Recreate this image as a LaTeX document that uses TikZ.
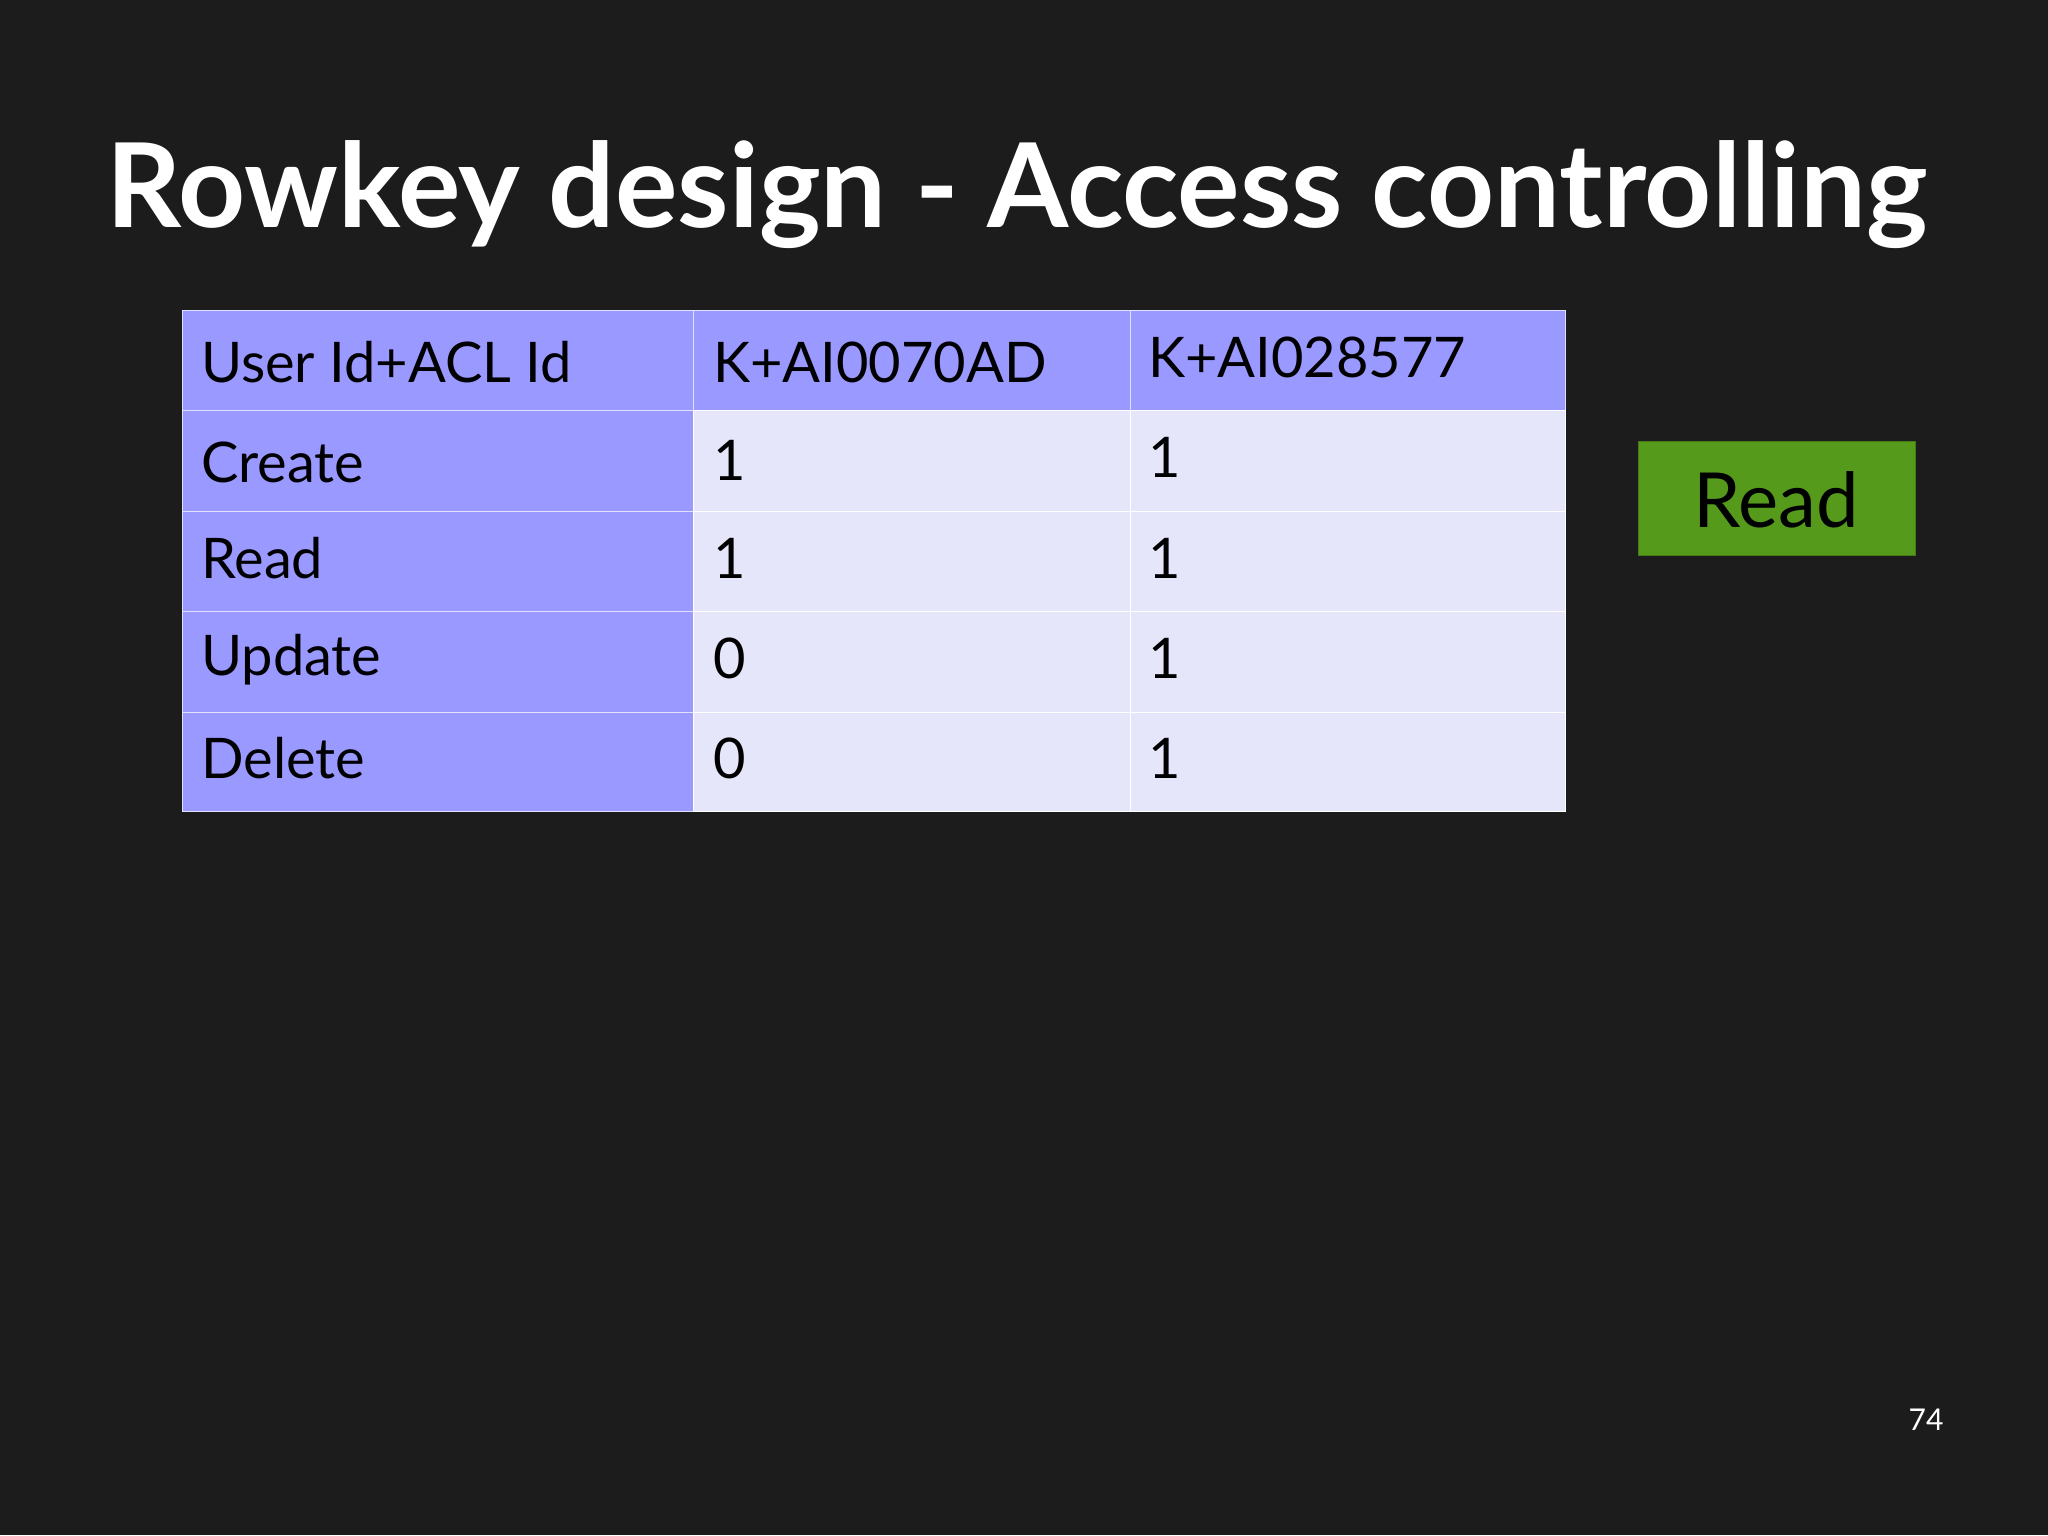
\documentclass[tikz,border=0pt]{standalone}
\usepackage{fontspec}
\setmainfont{Lato}
\definecolor{bg}{HTML}{1C1C1C}
\definecolor{hdr}{HTML}{9999FF}
\definecolor{cell}{HTML}{E6E6FB}
\definecolor{grn}{HTML}{559A1B}
\begin{document}
\begin{tikzpicture}[x=1pt,y=-1pt,
  celltxt/.style={anchor=west,font=\fontsize{56}{60}\selectfont,text=black,inner sep=0pt},
  hcell/.style={fill=hdr,draw=white!70!hdr,line width=1pt},
  lcell/.style={fill=cell,draw=white,line width=1pt}]
\fill[bg] (0,0) rectangle (2048,1535);
\useasboundingbox (0,0) rectangle (2048,1535);
\node[anchor=center,text=white,font=\fontsize{117}{124}\selectfont\bfseries] (title) at (1017,195) {Rowkey design - Access controlling};
\def\xa{182}\def\xb{693}\def\xc{1130}\def\xd{1565}
\foreach \y/\yy [count=\i] in {310/410,410/511,511/611,611/712,712/811}{
  \draw[hcell] (\xa,\y) rectangle (\xb,\yy);
  \ifnum\i=1
    \draw[hcell] (\xb,\y) rectangle (\xc,\yy);
    \draw[hcell] (\xc,\y) rectangle (\xd,\yy);
  \else
    \draw[lcell] (\xb,\y) rectangle (\xc,\yy);
    \draw[lcell] (\xc,\y) rectangle (\xd,\yy);
  \fi
}
\node[celltxt] (h1) at (201,362) {User Id+ACL Id};
\node[celltxt] (h2) at (713,362) {K+AI0070AD};
\node[celltxt] (h3) at (1148,357) {K+AI028577};
\node[celltxt] (r1) at (201,462) {Create};
\node[celltxt] (r1a) at (713,460) {1};
\node[celltxt] (r1b) at (1148,457) {1};
\node[celltxt] (r2) at (201,558) {Read};
\node[celltxt] (r2a) at (713,558) {1};
\node[celltxt] (r2b) at (1148,558) {1};
\node[celltxt] (r3) at (201,660) {Update};
\node[celltxt] (r3a) at (713,658) {0};
\node[celltxt] (r3b) at (1148,658) {1};
\node[celltxt] (r4) at (201,758) {Delete};
\node[celltxt] (r4a) at (713,758) {0};
\node[celltxt] (r4b) at (1148,758) {1};
\draw[fill=grn,draw=grn!80!black,line width=1pt] (1638,441) rectangle (1915,555);
\node[font=\fontsize{76}{80}\selectfont,text=black] (read) at (1776,500) {Read};
\node[font=\fontsize{30}{34}\selectfont,text=white] (pg) at (1926,1420) {74};
\end{tikzpicture}
\end{document}
